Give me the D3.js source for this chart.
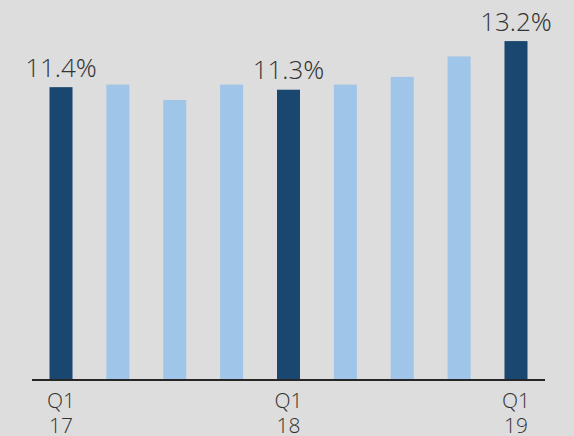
<!DOCTYPE html>
<html>
<head>
<meta charset="utf-8">
<script src="https://cdn.jsdelivr.net/npm/d3@7"></script>
<style>
  html, body { margin: 0; padding: 0; background: #dddddd; }
  svg { display: block; }
  text { font-family: "Open Sans Light", "Open Sans", sans-serif; font-weight: 300; fill: #333333; }
</style>
</head>
<body>
<svg id="chart" width="574" height="436"></svg>
<script>
// Quarterly ratio, Q1 2017 to Q1 2019
const quarters = ["Q1 17", "Q2 17", "Q3 17", "Q4 17", "Q1 18", "Q2 18", "Q3 18", "Q4 18", "Q1 19"];
const values = [11.4, 11.5, 10.9, 11.5, 11.3, 11.5, 11.8, 12.6, 13.2];
const highlighted = ["Q1 17", "Q1 18", "Q1 19"];
const tickLines = { "Q1 17": ["Q1", "17"], "Q1 18": ["Q1", "18"], "Q1 19": ["Q1", "19"] };

const svg = d3.select("#chart");
const baseY = 379;

const x = d3.scaleBand()
  .domain(quarters)
  .range([32, 545])
  .paddingInner(0.5956)
  .paddingOuter(0.308);

const y = d3.scaleLinear()
  .domain([0, 14])
  .range([baseY, baseY - 14 * 25.6]);

const data = quarters.map((q, i) => ({ q, v: values[i] }));

svg.append("g")
  .selectAll("rect")
  .data(data)
  .join("rect")
  .attr("x", d => x(d.q))
  .attr("y", d => y(d.v))
  .attr("width", x.bandwidth())
  .attr("height", d => y(0) - y(d.v))
  .attr("fill", d => highlighted.includes(d.q) ? "#1a476f" : "#9fc5e8");

// value labels on the highlighted quarters
svg.append("g")
  .selectAll("text")
  .data(data.filter(d => highlighted.includes(d.q)))
  .join("text")
  .attr("x", d => x(d.q) + x.bandwidth() / 2)
  .attr("y", d => y(d.v) - 10.5)
  .attr("text-anchor", "middle")
  .style("font-size", "26px")
  .text(d => d.v.toFixed(1) + "%");

// x axis
const axis = d3.axisBottom(x).tickSize(0).tickFormat(() => "");
const gAxis = svg.append("g")
  .attr("transform", `translate(0,${baseY})`)
  .call(axis);
gAxis.select(".domain")
  .attr("stroke", "#262626")
  .attr("stroke-width", 2.2)
  .attr("d", "M32,1H545");

gAxis.selectAll(".tick").each(function (q) {
  const lines = tickLines[q];
  if (!lines) return;
  const t = d3.select(this).select("text")
    .attr("y", 0)
    .attr("dy", null)
    .attr("fill", "#333333")
    .style("font-family", "\"Open Sans Light\", \"Open Sans\", sans-serif")
    .style("font-weight", "300")
    .style("font-size", "21px");
  t.selectAll("tspan")
    .data(lines)
    .join("tspan")
    .attr("x", 0)
    .attr("y", (d, i) => 29 + i * 24.5)
    .text(d => d);
});
</script>
</body>
</html>
